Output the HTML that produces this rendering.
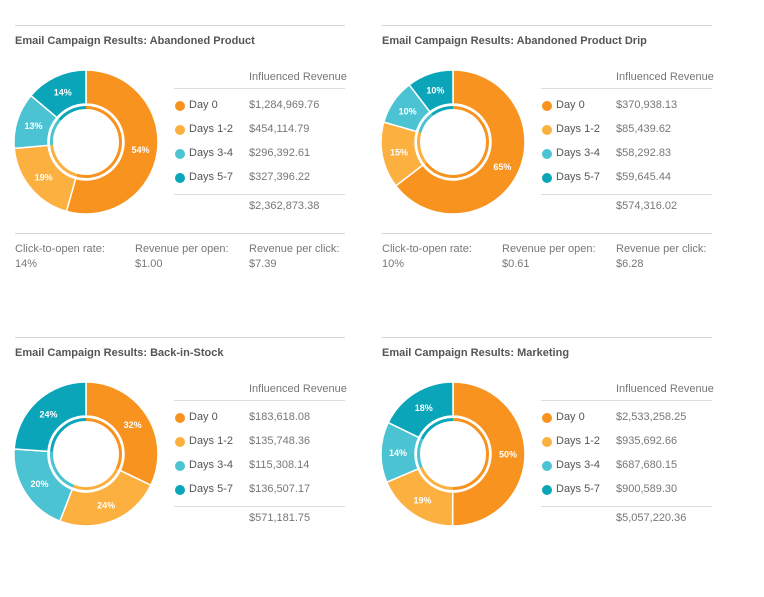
<!DOCTYPE html>
<html><head><meta charset="utf-8">
<style>
body{margin:0;width:764px;height:539px;background:#fff;font-family:"Liberation Sans",sans-serif;position:relative;overflow:hidden}
.p{position:absolute;width:330px}
.hl{position:absolute;left:0;width:330px;height:1px;background:#d6d6d6}
.t{position:absolute;left:0;font-size:11px;font-weight:bold;color:#555;white-space:nowrap}
.tx{position:absolute;font-size:11px;color:#777;white-space:nowrap}
.lb{position:absolute;font-size:11px;color:#555;white-space:nowrap}
.dot{position:absolute;width:10px;height:10px;border-radius:50%}
svg{position:absolute;left:0;top:0}
</style></head><body>
<div id="root"></div>
<script>
const titles=["Email Campaign Results: Abandoned Product","Email Campaign Results: Abandoned Product Drip","Email Campaign Results: Back-in-Stock","Email Campaign Results: Marketing"];
const categories=["Day 0","Days 1-2","Days 3-4","Days 5-7"];
const revenue0=[1284969.76,454114.79,296392.61,327396.22];
const revenue1=[370938.13,85439.62,58292.83,59645.44];
const revenue2=[183618.08,135748.36,115308.14,136507.17];
const revenue3=[2533258.25,935692.66,687680.15,900589.30];
const totals=["$2,362,873.38","$574,316.02","$571,181.75","$5,057,220.36"];
const metricLabels=["Click-to-open rate:","Revenue per open:","Revenue per click:"];
const metrics0=["14%","$1.00","$7.39"];
const metrics1=["10%","$0.61","$6.28"];
const colors=["#F7931E","#FBB040","#4BC3D3","#0BA5BA"];
const revs=[revenue0,revenue1,revenue2,revenue3];
const mets=[metrics0,metrics1,null,null];
const pos=[[15,25],[382,25],[15,337],[382,337]];
const names=["abandoned-product","abandoned-product-drip","back-in-stock","marketing"];
function fmt(v){return "$"+v.toLocaleString("en-US",{minimumFractionDigits:2,maximumFractionDigits:2});}
const root=document.getElementById('root');
const NS="http://www.w3.org/2000/svg";
revs.forEach((rv,pi)=>{
  const p=document.createElement('div');p.className='p';
  
  
  p.style.left=pos[pi][0]+'px';p.style.top=pos[pi][1]+'px';p.style.height='260px';
  let h='<div class="hl" style="top:0"></div>';
  h+='<div class="t" style="top:10px">'+titles[pi]+'</div>';
  h+='<div class="tx" style="left:234px;top:46px">Influenced Revenue</div>';
  h+='<div class="hl" style="left:159px;width:171px;top:63px;background:#ddd"></div>';
  categories.forEach((c,i)=>{
    const y=74+i*24;
    h+='<div class="dot" style="left:160px;top:'+(y+2)+'px;background:'+colors[i]+'"></div>';
    h+='<div class="lb" style="left:174px;top:'+y+'px">'+c+'</div>';
    h+='<div class="tx" style="left:234px;top:'+y+'px">'+fmt(rv[i])+'</div>';
  });
  h+='<div class="hl" style="left:159px;width:171px;top:169px;background:#ddd"></div>';
  h+='<div class="tx" style="left:234px;top:175px">'+totals[pi]+'</div>';
  if(mets[pi]){
    h+='<div class="hl" style="top:208px"></div>';
    const xs=[0,120,234];
    metricLabels.forEach((m,i)=>{
      h+='<div class="tx" style="left:'+xs[i]+'px;top:218px">'+m+'</div>';
      h+='<div class="tx" style="left:'+xs[i]+'px;top:233px">'+mets[pi][i]+'</div>';
    });
  }
  p.innerHTML=h;
  const svg=document.createElementNS(NS,'svg');
  svg.setAttribute('width','170');svg.setAttribute('height','170');
  
  
  svg.style.left='-15px';svg.style.top='32px';
  const cx=86,cy=85,R=72,r=38;
  const tot=rv.reduce((a,b)=>a+b,0);
  let a0=0;
  rv.forEach((v,i)=>{
    const frac=v/tot,a1=a0+frac*2*Math.PI;
    const pt=(rad,a)=>[cx+rad*Math.sin(a),cy-rad*Math.cos(a)];
    const [x1,y1]=pt(R,a0),[x2,y2]=pt(R,a1),[x3,y3]=pt(r,a1),[x4,y4]=pt(r,a0);
    const lg=frac>0.5?1:0;
    const path=document.createElementNS(NS,'path');
    path.setAttribute('d',`M${x1},${y1}A${R},${R} 0 ${lg} 1 ${x2},${y2}L${x3},${y3}A${r},${r} 0 ${lg} 0 ${x4},${y4}Z`);
    path.setAttribute('fill',colors[i]);path.setAttribute('stroke','#fff');path.setAttribute('stroke-width','1.5');
    
    
    svg.appendChild(path);
    const ring=document.createElementNS(NS,'path');
    const rr=34.5;
    const [q1,w1]=pt(rr,a0),[q2,w2]=pt(rr,a1);
    ring.setAttribute('d',`M${q1},${w1}A${rr},${rr} 0 ${lg} 1 ${q2},${w2}`);
    ring.setAttribute('fill','none');ring.setAttribute('stroke',colors[i]);ring.setAttribute('stroke-width','3');
    
    
    svg.appendChild(ring);
    const am=(a0+a1)/2,[lx,ly]=pt(55,am);
    const t=document.createElementNS(NS,'text');
    t.setAttribute('x',lx);t.setAttribute('y',ly+3.5);t.setAttribute('text-anchor','middle');
    t.setAttribute('font-size','9');t.setAttribute('font-weight','bold');t.setAttribute('fill','#fff');
    t.setAttribute('font-family','Liberation Sans, sans-serif');
    
    
    t.textContent=Math.round(frac*100)+'%';
    svg.appendChild(t);
    a0=a1;
  });
  p.appendChild(svg);
  root.appendChild(p);
});
</script>
</body></html>
